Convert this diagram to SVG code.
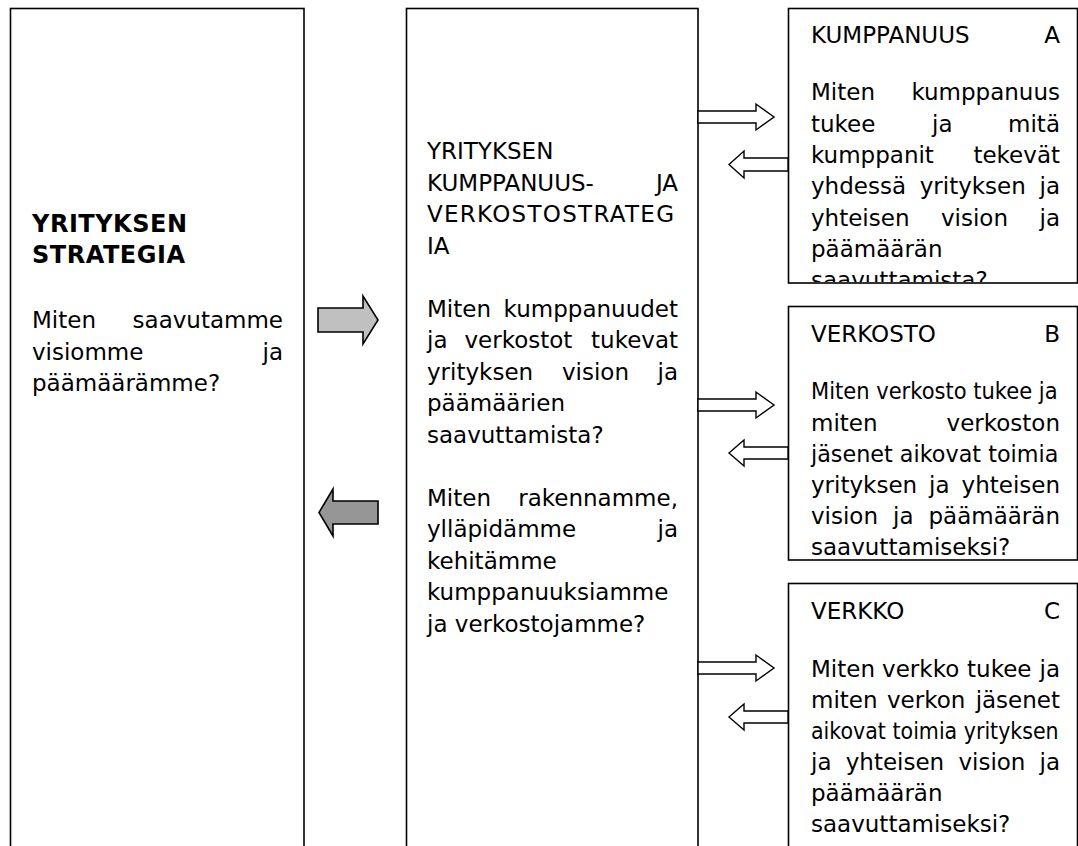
<svg xmlns="http://www.w3.org/2000/svg" width="1078" height="846" viewBox="0 0 1078 846">
<style>
.box{fill:#fff;stroke:#000;stroke-width:1.6}
.t{font-family:"DejaVu Sans","Liberation Sans",sans-serif;font-size:23px;fill:#000}
.b{font-weight:bold;font-size:24px}
.r{text-anchor:end}
.wa{fill:#fff;stroke:#000;stroke-width:1.4;stroke-linejoin:miter}
.ga{stroke:#000;stroke-width:1.6}
</style>
<defs>
<clipPath id="clipA"><rect x="789" y="9" width="289" height="273"/></clipPath>
</defs>
<rect width="1078" height="846" fill="#fff"/>

<g id="strategia">
<rect class="box" x="10.5" y="8.5" width="293.5" height="860"/>
<text class="t b" x="32" y="232" textLength="155" lengthAdjust="spacing">YRITYKSEN</text>
<text class="t b" x="32" y="263" textLength="153" lengthAdjust="spacing">STRATEGIA</text>
<text class="t" x="32" y="328">Miten</text><text class="t r" x="283" y="328">saavutamme</text>
<text class="t" x="32" y="360">visiomme</text><text class="t r" x="283" y="360">ja</text>
<text class="t" x="32" y="391">päämäärämme?</text>
</g>

<g id="verkostostrategia">
<rect class="box" x="406.5" y="8.5" width="291.5" height="860"/>
<text class="t" x="427" y="159">YRITYKSEN</text>
<text class="t" x="427" y="190.5">KUMPPANUUS-</text><text class="t r" x="678" y="190.5">JA</text>
<text class="t" x="427" y="222" textLength="247" lengthAdjust="spacing">VERKOSTOSTRATEG</text>
<text class="t" x="427" y="253.5">IA</text>
<text class="t" x="427" y="316.5">Miten</text><text class="t r" x="678" y="316.5">kumppanuudet</text>
<text class="t" x="427" y="348">ja</text><text class="t" x="464.5" y="348">verkostot</text><text class="t r" x="678" y="348">tukevat</text>
<text class="t" x="427" y="379.5">yrityksen</text><text class="t" x="562" y="379.5">vision</text><text class="t r" x="678" y="379.5">ja</text>
<text class="t" x="427" y="411">päämäärien</text>
<text class="t" x="427" y="442.5">saavuttamista?</text>
<text class="t" x="427" y="505.5">Miten</text><text class="t r" x="678" y="505.5">rakennamme,</text>
<text class="t" x="427" y="537">ylläpidämme</text><text class="t r" x="678" y="537">ja</text>
<text class="t" x="427" y="568.5">kehitämme</text>
<text class="t" x="427" y="600">kumppanuuksiamme</text>
<text class="t" x="427" y="631.5">ja verkostojamme?</text>
</g>

<g id="kumppanuus-a">
<rect class="box" x="788.5" y="8.5" width="289" height="274.5"/>
<g clip-path="url(#clipA)">
<text class="t" x="811" y="43">KUMPPANUUS</text><text class="t r" x="1060" y="43">A</text>
<text class="t" x="811" y="100">Miten</text><text class="t r" x="1060" y="100">kumppanuus</text>
<text class="t" x="811" y="131.5">tukee</text><text class="t" x="932" y="131.5">ja</text><text class="t r" x="1060" y="131.5">mitä</text>
<text class="t" x="811" y="163">kumppanit</text><text class="t r" x="1060" y="163">tekevät</text>
<text class="t" x="811" y="194">yhdessä</text><text class="t" x="919.7" y="194">yrityksen</text><text class="t r" x="1060" y="194">ja</text>
<text class="t" x="811" y="225.5">yhteisen</text><text class="t" x="941" y="225.5">vision</text><text class="t r" x="1060" y="225.5">ja</text>
<text class="t" x="811" y="257">päämäärän</text>
<text class="t" x="811" y="288">saavuttamista?</text>
</g>
</g>

<g id="verkosto-b">
<rect class="box" x="788.5" y="306.5" width="289" height="253.5"/>
<text class="t" x="811" y="342">VERKOSTO</text><text class="t r" x="1060" y="342">B</text>
<text class="t" transform="translate(811,399) scale(0.915,1)" x="0" y="0">Miten verkosto tukee ja</text>
<text class="t" x="811" y="430.5">miten</text><text class="t r" x="1060" y="430.5">verkoston</text>
<text class="t" transform="translate(811,462) scale(0.97,1)" x="0" y="0">jäsenet aikovat toimia</text>
<text class="t" x="811" y="493">yrityksen</text><text class="t" x="929" y="493">ja</text><text class="t r" x="1060" y="493">yhteisen</text>
<text class="t" x="811" y="524">vision</text><text class="t" x="893" y="524">ja</text><text class="t r" x="1060" y="524">päämäärän</text>
<text class="t" x="811" y="555">saavuttamiseksi?</text>
</g>

<g id="verkko-c">
<rect class="box" x="788.5" y="583.5" width="289" height="300"/>
<text class="t" x="811" y="619">VERKKO</text><text class="t r" x="1060" y="619">C</text>
<text class="t" x="811" y="677">Miten</text><text class="t" x="882.1" y="677">verkko</text><text class="t" x="967.1" y="677">tukee</text><text class="t r" x="1060" y="677">ja</text>
<text class="t" x="811" y="708">miten</text><text class="t" x="887" y="708">verkon</text><text class="t r" x="1060" y="708">jäsenet</text>
<text class="t" transform="translate(811,739) scale(0.895,1)" x="0" y="0">aikovat toimia yrityksen</text>
<text class="t" x="811" y="770">ja</text><text class="t" x="845.7" y="770">yhteisen</text><text class="t" x="958.4" y="770">vision</text><text class="t r" x="1060" y="770">ja</text>
<text class="t" x="811" y="801">päämäärän</text>
<text class="t" x="811" y="832">saavuttamiseksi?</text>
</g>

<g id="connectors">
<polygon class="ga" fill="#c0c0c0" points="318,308 363,308 363,296 378,320 363,344 363,332 318,332"/>
<polygon class="ga" fill="#969696" points="378,501 333,501 333,489 319,512.5 333,536 333,524 378,524"/>
<polygon class="wa" points="698,111 756,111 756,104 774,117 756,130 756,123 698,123"/>
<polygon class="wa" points="788,158 744,158 744,151 729,164.5 744,178 744,171 788,171"/>
<polygon class="wa" points="698,399 756,399 756,392 774,405 756,418 756,411 698,411"/>
<polygon class="wa" points="788,447 744,447 744,440 729,453 744,466 744,459 788,459"/>
<polygon class="wa" points="698,662 756,662 756,655 774,668 756,681 756,674 698,674"/>
<polygon class="wa" points="788,711 744,711 744,704 729,717 744,730 744,723 788,723"/>
</g>
</svg>
